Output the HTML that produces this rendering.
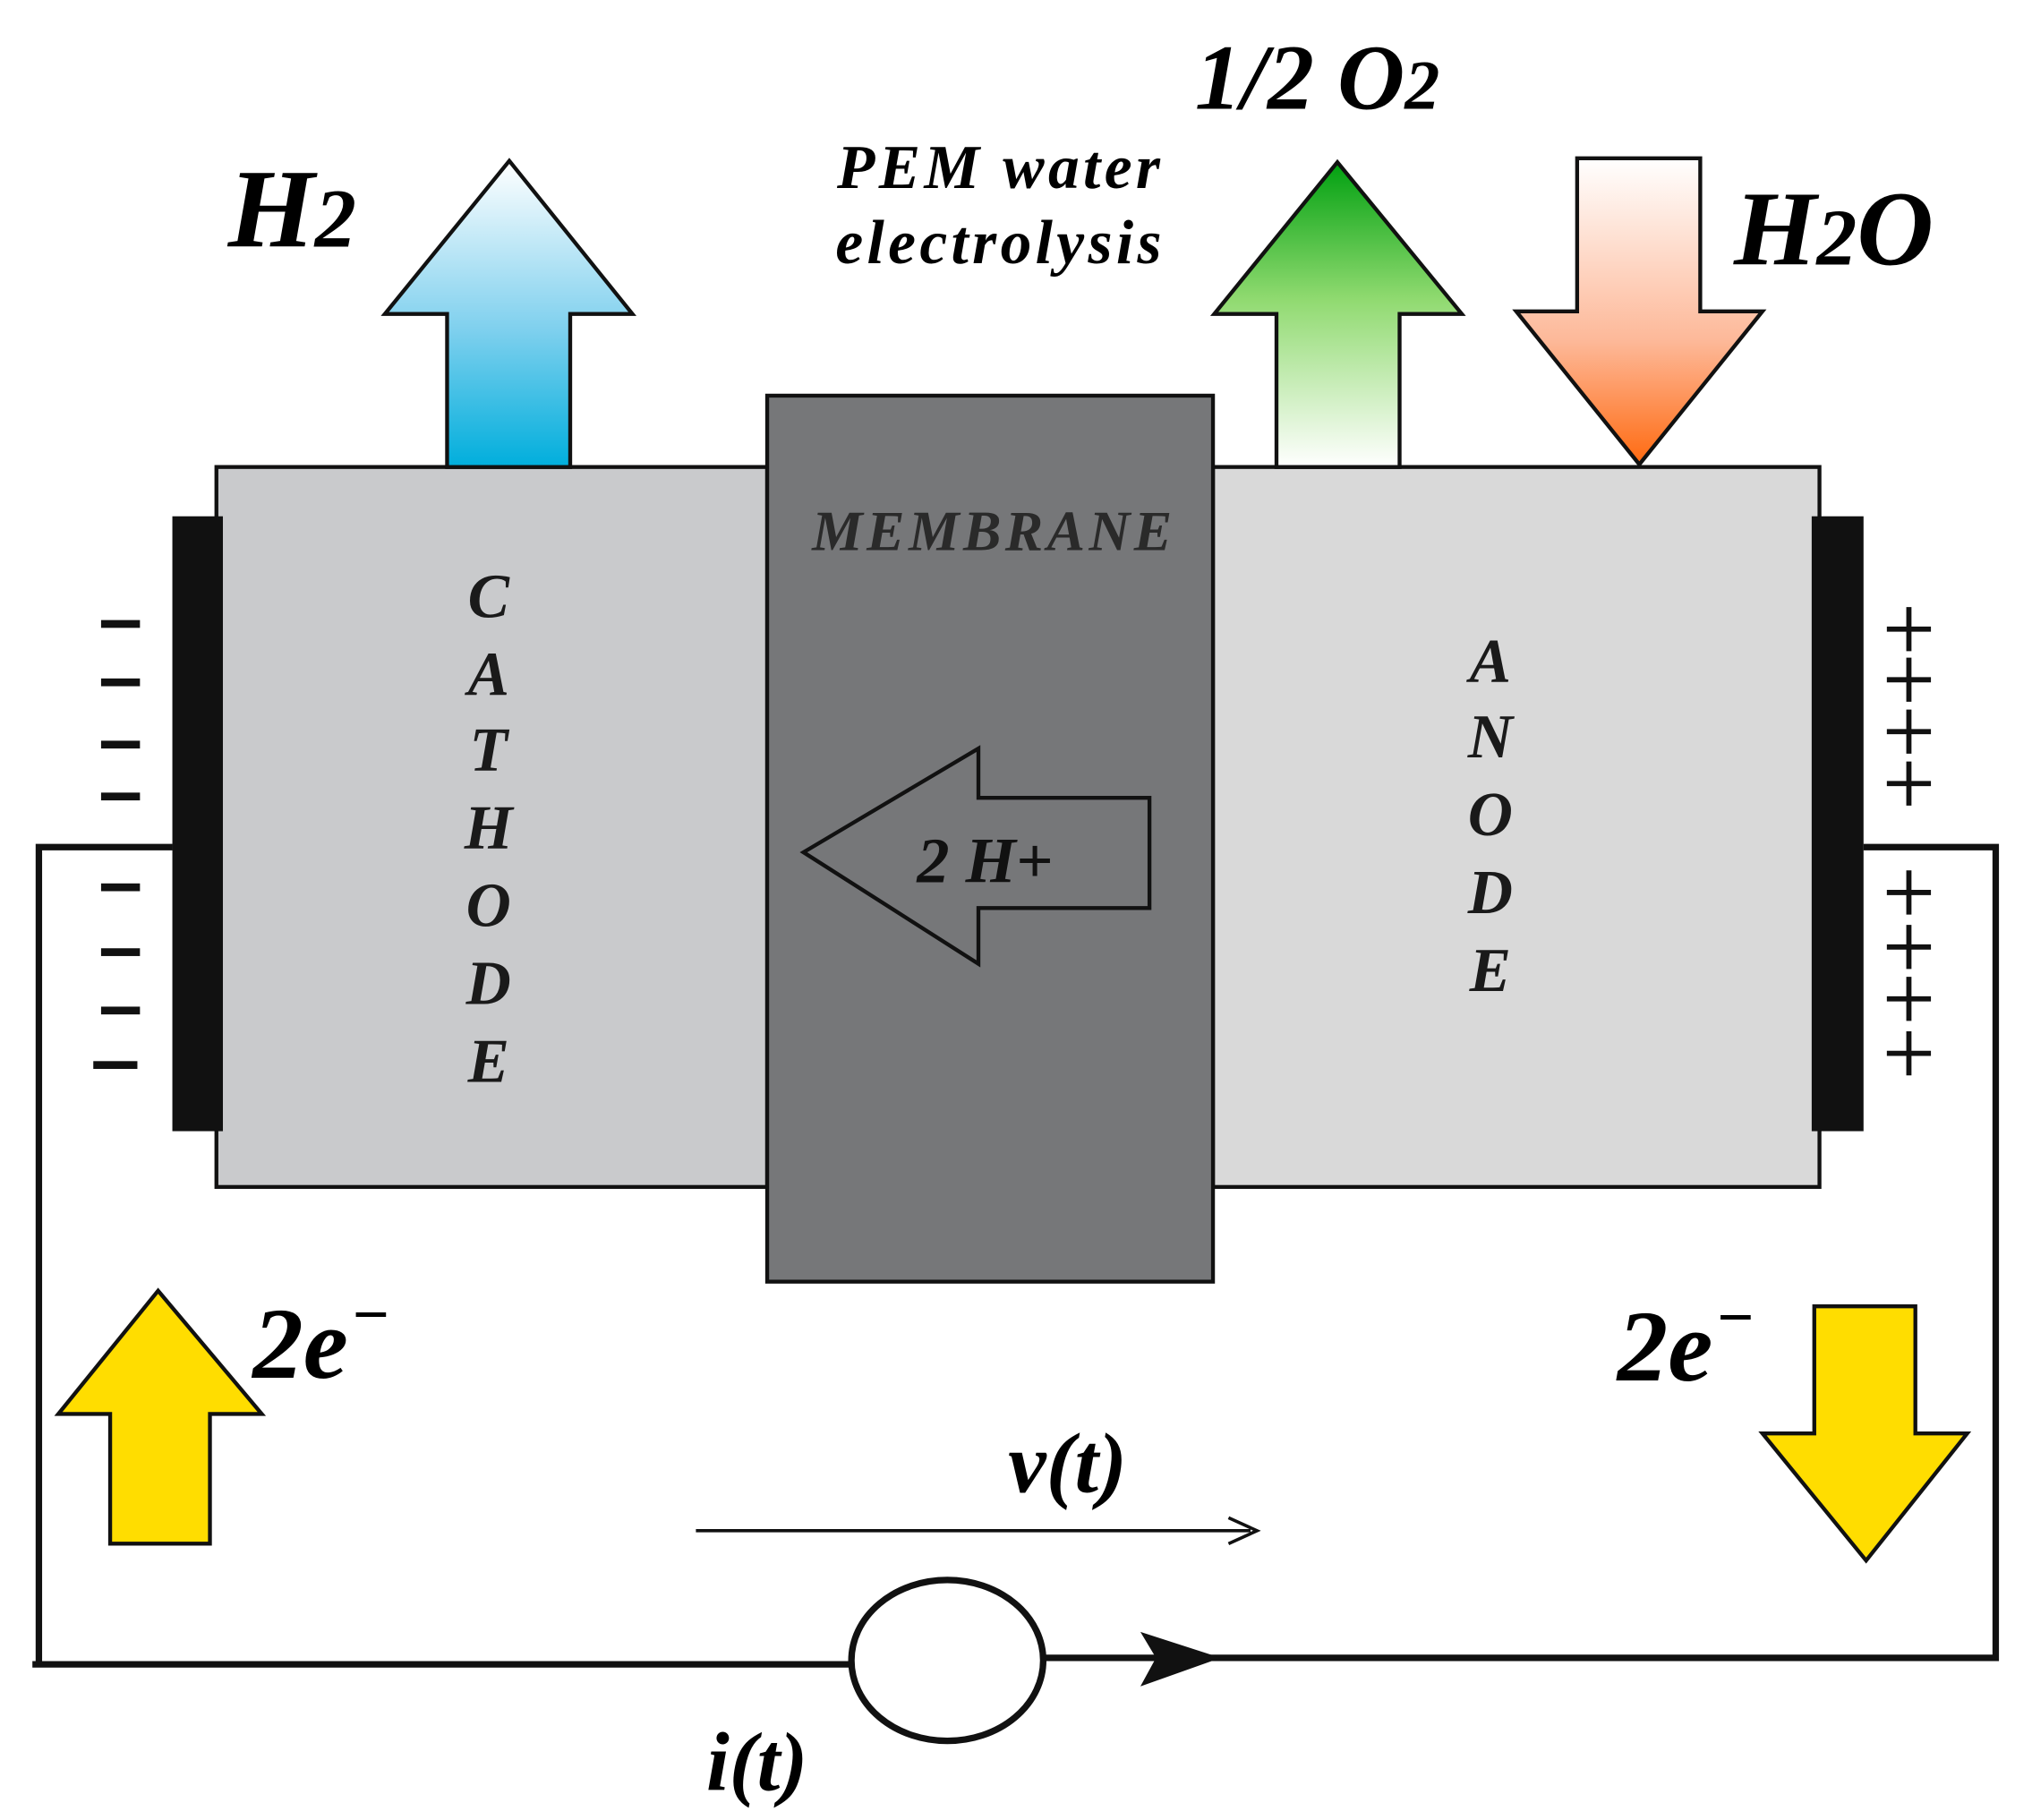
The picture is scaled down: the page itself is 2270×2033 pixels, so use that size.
<!DOCTYPE html>
<html><head><meta charset="utf-8"><style>html,body{margin:0;padding:0;background:#fff}svg{display:block}</style></head>
<body>
<svg width="2270" height="2033" viewBox="0 0 1568 1403" preserveAspectRatio="none" xmlns="http://www.w3.org/2000/svg">
<defs>
<linearGradient id="gb" x1="0" y1="0" x2="0" y2="1"><stop offset="0" stop-color="#ffffff"/><stop offset="0.55" stop-color="#7fd0ee"/><stop offset="1" stop-color="#00aedc"/></linearGradient>
<linearGradient id="gg" x1="0" y1="0" x2="0" y2="1"><stop offset="0" stop-color="#00a010"/><stop offset="0.45" stop-color="#90da70"/><stop offset="1" stop-color="#ffffff"/></linearGradient>
<linearGradient id="go" x1="0" y1="0" x2="0" y2="1"><stop offset="0" stop-color="#ffffff"/><stop offset="0.6" stop-color="#fdb898"/><stop offset="1" stop-color="#ff6a10"/></linearGradient>
</defs>
<rect width="1568" height="1403" fill="#fff"/>
<g font-family="'Liberation Serif',serif" font-weight="bold" font-style="italic">
<rect x="167" y="360" width="425" height="555" fill="#c9cacc" stroke="#111" stroke-width="3"/>
<rect x="936" y="360" width="468" height="555" fill="#d9d9d9" stroke="#111" stroke-width="3"/>
<rect x="592" y="305" width="344" height="683" fill="#767779" stroke="#111" stroke-width="3"/>
<rect x="133" y="398" width="39" height="474" fill="#111"/>
<rect x="1398" y="398" width="40" height="474" fill="#111"/>
<g fill="#111">
<rect x="78" y="478" width="30" height="6"/><rect x="78" y="523" width="30" height="6"/><rect x="78" y="571" width="30" height="6"/><rect x="78" y="611" width="30" height="6"/>
<rect x="78" y="681" width="30" height="6"/><rect x="78" y="731" width="30" height="6"/><rect x="78" y="776" width="30" height="6"/><rect x="72" y="818" width="34" height="6"/>
</g>
<g stroke="#111" stroke-width="4">
<path d="M1456 485h34M1473 468v34M1456 524h34M1473 507v34M1456 564h34M1473 547v34M1456 604h34M1473 587v34"/>
<path d="M1456 688h34M1473 671v34M1456 730h34M1473 713v34M1456 770h34M1473 753v34M1456 812h34M1473 795v34"/>
</g>
<g fill="none" stroke="#111" stroke-width="5">
<path d="M133 653H30V1283"/>
<path d="M25 1283H657"/>
<path d="M805 1278H1540V653H1438"/>
<ellipse cx="731" cy="1280" rx="74" ry="62"/>
</g>
<path d="M880 1258L942 1278L880 1300L892 1278Z" fill="#111"/>
<path d="M537 1180H965" stroke="#111" stroke-width="2.5"/>
<path d="M948 1170L970 1180L948 1190" fill="none" stroke="#111" stroke-width="2.5"/>
<text x="778" y="1150" font-size="66">v(t)</text>
<text x="545" y="1380" font-size="64">i(t)</text>
<path d="M85 1190V1090H45L122 995L202 1090H162V1190Z" fill="#ffdd00" stroke="#111" stroke-width="3"/>
<path d="M1400 1007V1105H1360L1440 1203L1518 1105H1478V1007Z" fill="#ffdd00" stroke="#111" stroke-width="3"/>
<text x="195" y="1062" font-size="78">2e</text><text x="272" y="1030" font-size="50" font-style="normal">−</text>
<text x="1248" y="1064" font-size="78">2e</text><text x="1325" y="1032" font-size="50" font-style="normal">−</text>
<path d="M345 360V242H297L393 124L488 242H440V360Z" fill="url(#gb)" stroke="#111" stroke-width="3"/>
<path d="M985 360V242H937L1032 125L1128 242H1080V360Z" fill="url(#gg)" stroke="#111" stroke-width="3"/>
<path d="M1217 122V240H1170L1265 358L1360 240H1312V122Z" fill="url(#go)" stroke="#111" stroke-width="3"/>
<text x="176" y="190" font-size="86">H<tspan font-size="64">2</tspan></text>
<text x="922" y="84" font-size="72">1/2 O<tspan font-size="54">2</tspan></text>
<text x="1338" y="204" font-size="82">H<tspan font-size="62">2</tspan>O</text>
<text x="772" y="145" font-size="48" text-anchor="middle" letter-spacing="3">PEM water</text>
<text x="772" y="203" font-size="48" text-anchor="middle" letter-spacing="3">electrolysis</text>
<text x="767" y="424" font-size="44" fill="#2a2a2a" text-anchor="middle" letter-spacing="3">MEMBRANE</text>
<g font-size="48" fill="#1a1a1a" text-anchor="middle">
<text x="377" y="476">C</text><text x="377" y="536">A</text><text x="377" y="594">T</text><text x="377" y="654">H</text><text x="377" y="714">O</text><text x="377" y="774">D</text><text x="377" y="834">E</text>
<text x="1150" y="526">A</text><text x="1150" y="584">N</text><text x="1150" y="644">O</text><text x="1150" y="704">D</text><text x="1150" y="764">E</text>
</g>
<path d="M887 615V700H755V743L620 657L755 577V615Z" fill="none" stroke="#111" stroke-width="3"/>
<text x="760" y="680" font-size="50" fill="#111" text-anchor="middle">2 H+</text>
</g>
</svg>
</body></html>
